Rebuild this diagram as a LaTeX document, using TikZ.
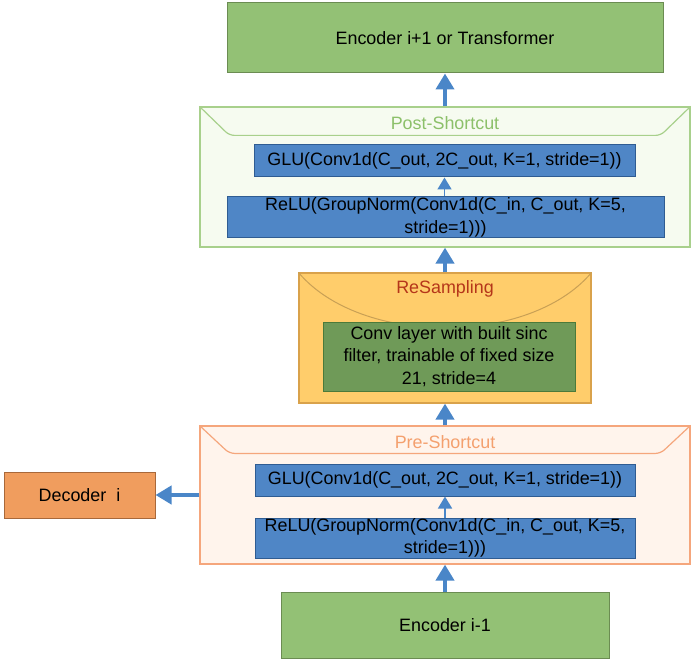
\documentclass[tikz,border=0pt]{standalone}
\usepackage{fontspec}
\setmainfont{Liberation Sans}
\usetikzlibrary{arrows.meta,calc}
\definecolor{encfill}{HTML}{93C175}
\definecolor{encdraw}{HTML}{6B8C52}
\definecolor{postdraw}{HTML}{A8D08C}
\definecolor{postfill}{HTML}{F6FBF0}
\definecolor{postlbl}{HTML}{8CC06A}
\definecolor{bluefill}{HTML}{4F86C6}
\definecolor{bluedraw}{HTML}{2F5C92}
\definecolor{arrowblue}{HTML}{4A86C8}
\definecolor{resfill}{HTML}{FFCD6B}
\definecolor{resdraw}{HTML}{D9A24B}
\definecolor{rescurve}{HTML}{C9A055}
\definecolor{reslbl}{HTML}{B5361A}
\definecolor{convfill}{HTML}{6F9A58}
\definecolor{convdraw}{HTML}{4C7A3A}
\definecolor{predraw}{HTML}{F5A67C}
\definecolor{prefill}{HTML}{FFF4EC}
\definecolor{prelbl}{HTML}{F4A06E}
\definecolor{decfill}{HTML}{F09D5E}
\definecolor{decdraw}{HTML}{A8683A}
\tikzset{
  box/.style={draw, line width=1pt, inner sep=0pt, align=center, font=\fontsize{17.9}{22.5}\selectfont},
  encbox/.style={box, fill=encfill, draw=encdraw},
  bluebox/.style={box, fill=bluefill, draw=bluedraw},
  container/.style={draw, line width=1.2pt, inner sep=0pt},
  lbl/.style={font=\fontsize{17.9}{22}\selectfont, inner sep=0pt},
  bigarrow/.style={draw=arrowblue, line width=4.5pt, -{Triangle[width=18pt,length=16pt]}},
  smallarrow/.style={draw=arrowblue, line width=1.6pt, -{Triangle[width=14pt,length=12pt]}},
  band/.style={line width=1.2pt, rounded corners=5pt}
}
\begin{document}
\begin{tikzpicture}[x=1pt,y=-1pt]
\useasboundingbox (0,0) rectangle (693,660);
% top encoder
\node[encbox, minimum width=436, minimum height=70] (enc1) at (445,38) {Encoder i+1 or Transformer};
% post-shortcut
\node[container, draw=postdraw, fill=postfill, minimum width=490, minimum height=140] (post) at (445,177) {};
\draw[band, draw=postdraw] (post.north west) -- ($(post.north west)+(30,29)$) -- ($(post.north east)+(-30,29)$) -- (post.north east);
\node[lbl, text=postlbl] (postlabel) at (445,123) {Post-Shortcut};
\node[bluebox, minimum width=381, minimum height=32] (postglu) at (444.5,161) {GLU(Conv1d(C\_out, 2C\_out, K=1, stride=1))};
\node[bluebox, minimum width=437, minimum height=41] (postrelu) at (445.5,217.5) {ReLU(GroupNorm(Conv1d(C\_in, C\_out, K=5,\\stride=1)))};
% resampling
\node[container, draw=resdraw, fill=resfill, minimum width=292, minimum height=130] (res) at (445,338) {};
\draw[line width=1pt, draw=rescurve] (res.north west) .. controls +(62,74) and +(-62,74) .. (res.north east);
\node[lbl, text=reslbl] (reslabel) at (445,289) {ReSampling};
\node[box, fill=convfill, draw=convdraw, minimum width=252, minimum height=69] (conv) at (449,356.5) {Conv layer with built sinc\\filter, trainable of fixed size\\21, stride=4};
% pre-shortcut
\node[container, draw=predraw, fill=prefill, minimum width=490, minimum height=138] (pre) at (445,495) {};
\draw[band, draw=predraw] (pre.north west) -- ($(pre.north west)+(30,28)$) -- ($(pre.north east)+(-30,28)$) -- (pre.north east);
\node[lbl, text=prelbl] (prelabel) at (445,442) {Pre-Shortcut};
\node[bluebox, minimum width=380, minimum height=32] (preglu) at (445,480) {GLU(Conv1d(C\_out, 2C\_out, K=1, stride=1))};
\node[bluebox, minimum width=380, minimum height=40] (prerelu) at (445,538) {ReLU(GroupNorm(Conv1d(C\_in, C\_out, K=5,\\stride=1)))};
% decoder
\node[box, fill=decfill, draw=decdraw, minimum width=151, minimum height=46] (dec) at (79.5,495) {Decoder\ \ i};
% bottom encoder
\node[encbox, minimum width=328, minimum height=66] (enc0) at (445,625) {Encoder i-1};
% arrows
\draw[bigarrow] (enc0.north) -- (enc0.north |- pre.south);
\draw[smallarrow] (prerelu.north) -- (prerelu.north |- preglu.south);
\draw[bigarrow] (pre.north) -- (pre.north |- res.south);
\draw[bigarrow] (res.north) -- (res.north |- post.south);
\draw[smallarrow] (postrelu.north -| postglu.south) -- (postglu.south);
\draw[bigarrow] (post.north) -- (post.north |- enc1.south);
\draw[bigarrow] (pre.west |- dec.east) -- (dec.east);
\end{tikzpicture}
\end{document}
